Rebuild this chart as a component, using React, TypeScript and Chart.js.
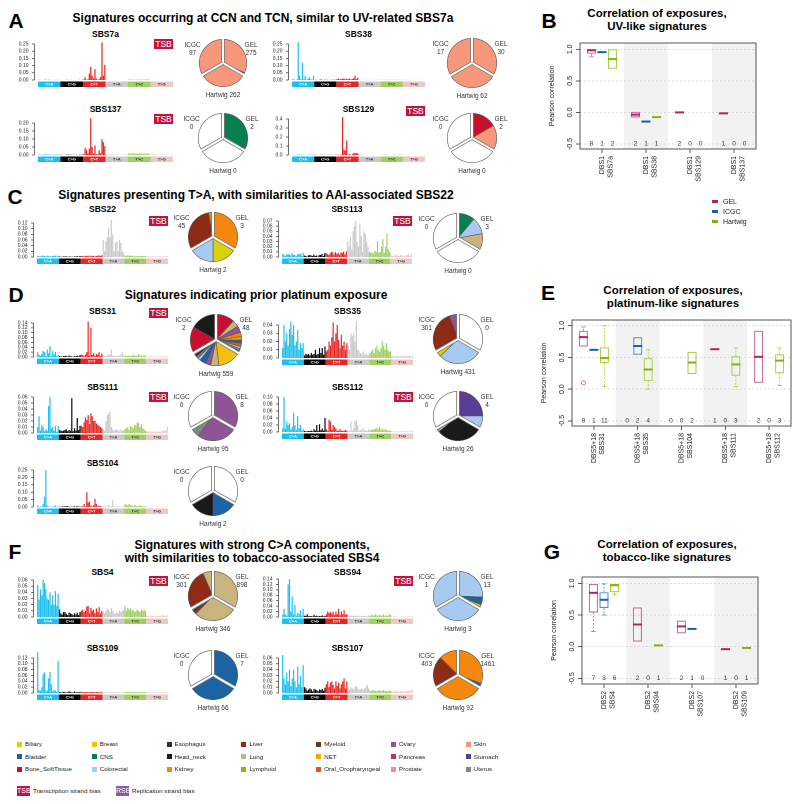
import React, { useEffect, useRef } from "react";
import { Chart, registerables } from "chart.js";

Chart.register(...registerables);

const FONT = "'Liberation Sans', Arial, Helvetica, sans-serif";

/* ---------------- categories ---------------- */
const SUBSTITUTIONS = ["C>A", "C>G", "C>T", "T>A", "T>C", "T>G"];
const BASES = ["A", "C", "G", "T"];
const CONTEXTS: string[] = [];
SUBSTITUTIONS.forEach((s) => BASES.forEach((a) => BASES.forEach((b) => CONTEXTS.push(a + "[" + s + "]" + b))));
const SUB_COLORS = ["#1EBFF0", "#050708", "#E62725", "#CBCACB", "#A1CF64", "#EDC8C5"];
const SUB_TEXT = ["#ffffff", "#ffffff", "#ffffff", "#333333", "#333333", "#333333"];

const TUMOR_TYPES = [
  "Biliary", "Bladder", "Bone_SoftTissue", "Breast", "CNS", "Colorectal", "Esophagus",
  "Head_neck", "Kidney", "Liver", "Lung", "Lymphoid", "Myeloid", "NET",
  "Oral_Oropharyngeal", "Ovary", "Pancreas", "Prostate", "Skin", "Stomach", "Uterus",
];
const TUMOR_COLORS: Record<string, string> = {
  Biliary: "#D8D20B", Bladder: "#1B63A5", Bone_SoftTissue: "#C8102E", Breast: "#F5C00B",
  CNS: "#087F4E", Colorectal: "#A7CAF0", Esophagus: "#1D3B1E", Head_neck: "#1A1A1A",
  Kidney: "#F4870F", Liver: "#8E2B16", Lung: "#C9B47D", Lymphoid: "#8DB600",
  Myeloid: "#5E3C1F", NET: "#F9A600", Oral_Oropharyngeal: "#E2541C", Ovary: "#8E5496",
  Pancreas: "#B23A67", Prostate: "#E98AB0", Skin: "#F7977A", Stomach: "#5A3D96", Uterus: "#858585",
};

/* ---------------- signature profiles (96 channels) ---------------- */
const SBS7a = [
  0.002,0.001,0.000,0.001,0.002,0.003,0.001,0.002,0.001,0.001,0.000,0.001,0.001,0.002,0.000,0.001,
  0.000,0.000,0.000,0.000,0.001,0.001,0.000,0.001,0.000,0.000,0.000,0.000,0.000,0.001,0.000,0.001,
  0.003,0.020,0.002,0.005,0.045,0.090,0.030,0.012,0.075,0.010,0.002,0.008,0.020,0.262,0.030,0.105,
  0.000,0.000,0.000,0.000,0.001,0.000,0.000,0.000,0.000,0.000,0.000,0.000,0.000,0.000,0.000,0.001,
  0.004,0.002,0.003,0.004,0.002,0.002,0.003,0.002,0.004,0.002,0.002,0.002,0.005,0.005,0.002,0.004,
  0.000,0.000,0.000,0.000,0.000,0.000,0.000,0.000,0.000,0.000,0.000,0.000,0.000,0.000,0.000,0.001,
];
const SBS38 = [
  0.006,0.004,0.001,0.003,0.262,0.030,0.005,0.120,0.006,0.030,0.002,0.010,0.020,0.006,0.002,0.030,
  0.001,0.001,0.000,0.001,0.002,0.003,0.000,0.002,0.001,0.001,0.000,0.001,0.001,0.002,0.000,0.002,
  0.006,0.010,0.004,0.008,0.008,0.012,0.005,0.010,0.006,0.010,0.004,0.008,0.012,0.030,0.008,0.015,
  0.001,0.001,0.001,0.001,0.002,0.001,0.001,0.001,0.001,0.001,0.001,0.001,0.001,0.001,0.001,0.002,
  0.002,0.001,0.002,0.001,0.002,0.002,0.001,0.002,0.002,0.001,0.002,0.001,0.002,0.002,0.001,0.003,
  0.001,0.001,0.001,0.001,0.001,0.001,0.001,0.001,0.001,0.001,0.001,0.001,0.001,0.001,0.001,0.001,
];
const SBS137 = [
  0.003,0.002,0.001,0.002,0.003,0.004,0.001,0.003,0.002,0.002,0.001,0.002,0.002,0.003,0.001,0.002,
  0.001,0.001,0.000,0.001,0.002,0.002,0.001,0.002,0.001,0.001,0.000,0.001,0.001,0.002,0.001,0.003,
  0.005,0.045,0.030,0.010,0.040,0.230,0.050,0.010,0.060,0.005,0.004,0.030,0.010,0.100,0.080,0.055,
  0.003,0.002,0.002,0.003,0.004,0.002,0.003,0.002,0.002,0.002,0.002,0.002,0.003,0.002,0.002,0.003,
  0.010,0.008,0.010,0.009,0.010,0.008,0.010,0.008,0.010,0.009,0.008,0.010,0.008,0.010,0.008,0.006,
  0.002,0.002,0.002,0.002,0.003,0.002,0.002,0.003,0.002,0.002,0.002,0.002,0.002,0.003,0.002,0.002,
];
const SBS129 = [
  0.003,0.002,0.002,0.003,0.003,0.004,0.002,0.003,0.002,0.002,0.002,0.002,0.003,0.003,0.002,0.003,
  0.001,0.001,0.001,0.001,0.001,0.002,0.001,0.001,0.001,0.001,0.001,0.001,0.001,0.001,0.001,0.002,
  0.003,0.003,0.002,0.005,0.420,0.060,0.050,0.160,0.005,0.010,0.002,0.010,0.020,0.025,0.020,0.020,
  0.001,0.001,0.001,0.001,0.002,0.001,0.001,0.001,0.001,0.001,0.001,0.001,0.001,0.001,0.001,0.001,
  0.002,0.003,0.002,0.002,0.003,0.002,0.002,0.003,0.002,0.002,0.003,0.002,0.002,0.003,0.002,0.004,
  0.001,0.001,0.001,0.001,0.001,0.001,0.001,0.001,0.001,0.001,0.001,0.001,0.001,0.001,0.001,0.002,
];
const SBS22 = [
  0.004,0.003,0.002,0.004,0.005,0.004,0.002,0.005,0.003,0.003,0.002,0.004,0.004,0.005,0.002,0.005,
  0.002,0.001,0.001,0.002,0.002,0.002,0.001,0.002,0.001,0.001,0.001,0.002,0.002,0.003,0.001,0.004,
  0.003,0.004,0.002,0.004,0.004,0.005,0.002,0.005,0.003,0.004,0.002,0.004,0.004,0.006,0.003,0.006,
  0.060,0.020,0.055,0.070,0.105,0.070,0.130,0.080,0.020,0.050,0.055,0.020,0.060,0.050,0.020,0.015,
  0.005,0.004,0.006,0.004,0.005,0.004,0.005,0.003,0.004,0.003,0.004,0.003,0.004,0.003,0.004,0.003,
  0.002,0.002,0.003,0.002,0.002,0.002,0.003,0.002,0.002,0.002,0.002,0.002,0.002,0.002,0.003,0.003,
];
const SBS113 = [
  0.006,0.004,0.002,0.005,0.006,0.005,0.003,0.007,0.004,0.004,0.002,0.005,0.006,0.007,0.002,0.008,
  0.003,0.002,0.001,0.003,0.004,0.003,0.002,0.005,0.002,0.003,0.001,0.004,0.004,0.006,0.002,0.007,
  0.008,0.006,0.004,0.007,0.010,0.009,0.005,0.010,0.006,0.008,0.004,0.009,0.008,0.010,0.005,0.011,
  0.030,0.020,0.040,0.015,0.050,0.060,0.070,0.030,0.020,0.065,0.040,0.010,0.050,0.045,0.030,0.020,
  0.010,0.008,0.010,0.006,0.012,0.010,0.030,0.008,0.010,0.020,0.035,0.008,0.020,0.045,0.015,0.010,
  0.004,0.002,0.002,0.003,0.005,0.003,0.002,0.004,0.003,0.002,0.002,0.003,0.004,0.005,0.002,0.006,
];
const SBS31 = [
  0.020,0.008,0.005,0.012,0.025,0.020,0.004,0.030,0.015,0.045,0.004,0.025,0.010,0.020,0.003,0.010,
  0.004,0.003,0.001,0.004,0.005,0.004,0.002,0.006,0.003,0.003,0.001,0.004,0.003,0.006,0.002,0.008,
  0.010,0.008,0.004,0.010,0.020,0.145,0.006,0.120,0.008,0.015,0.004,0.012,0.010,0.020,0.004,0.015,
  0.008,0.005,0.004,0.010,0.008,0.010,0.030,0.006,0.004,0.004,0.006,0.004,0.006,0.010,0.020,0.006,
  0.006,0.004,0.006,0.005,0.005,0.004,0.010,0.005,0.006,0.005,0.012,0.005,0.006,0.005,0.008,0.005,
  0.002,0.001,0.002,0.002,0.002,0.001,0.003,0.002,0.002,0.001,0.002,0.002,0.002,0.002,0.003,0.003,
];
const SBS35 = [
  0.012,0.040,0.020,0.030,0.015,0.035,0.044,0.028,0.040,0.015,0.020,0.034,0.010,0.018,0.012,0.018,
  0.003,0.005,0.004,0.005,0.003,0.006,0.004,0.005,0.010,0.004,0.005,0.012,0.006,0.012,0.004,0.014,
  0.008,0.010,0.020,0.015,0.025,0.043,0.020,0.030,0.040,0.022,0.012,0.028,0.015,0.020,0.010,0.018,
  0.015,0.010,0.030,0.027,0.030,0.020,0.045,0.010,0.008,0.006,0.005,0.008,0.004,0.006,0.004,0.004,
  0.006,0.008,0.010,0.006,0.012,0.015,0.010,0.008,0.012,0.020,0.015,0.010,0.018,0.010,0.008,0.008,
  0.002,0.003,0.002,0.002,0.003,0.002,0.002,0.003,0.002,0.003,0.002,0.003,0.002,0.003,0.002,0.003,
];
const SBS111 = [
  0.010,0.028,0.004,0.013,0.010,0.003,0.006,0.004,0.045,0.060,0.008,0.010,0.004,0.012,0.002,0.012,
  0.005,0.004,0.003,0.004,0.005,0.006,0.003,0.005,0.004,0.058,0.003,0.008,0.004,0.025,0.005,0.012,
  0.012,0.010,0.018,0.026,0.022,0.030,0.015,0.033,0.028,0.020,0.020,0.016,0.014,0.012,0.010,0.008,
  0.006,0.004,0.020,0.030,0.032,0.035,0.010,0.006,0.004,0.005,0.006,0.004,0.003,0.006,0.004,0.005,
  0.006,0.008,0.010,0.005,0.012,0.010,0.008,0.014,0.012,0.018,0.016,0.010,0.014,0.008,0.006,0.004,
  0.003,0.002,0.002,0.003,0.002,0.003,0.002,0.002,0.003,0.002,0.002,0.003,0.004,0.003,0.005,0.010,
];
const SBS112 = [
  0.010,0.100,0.010,0.030,0.020,0.025,0.008,0.015,0.055,0.020,0.006,0.045,0.010,0.020,0.004,0.008,
  0.003,0.002,0.002,0.003,0.003,0.004,0.002,0.008,0.004,0.020,0.003,0.022,0.005,0.010,0.004,0.040,
  0.008,0.004,0.035,0.030,0.006,0.020,0.015,0.010,0.004,0.004,0.008,0.004,0.003,0.004,0.006,0.004,
  0.004,0.002,0.030,0.004,0.010,0.030,0.035,0.020,0.004,0.006,0.004,0.010,0.004,0.006,0.003,0.008,
  0.004,0.006,0.008,0.006,0.010,0.012,0.008,0.014,0.006,0.010,0.005,0.008,0.006,0.004,0.004,0.005,
  0.002,0.001,0.002,0.001,0.002,0.002,0.001,0.002,0.002,0.001,0.002,0.002,0.002,0.001,0.002,0.004,
];
const SBS104 = [
  0.010,0.002,0.004,0.003,0.020,0.070,0.250,0.010,0.002,0.002,0.001,0.003,0.003,0.010,0.002,0.003,
  0.002,0.001,0.005,0.002,0.006,0.004,0.006,0.002,0.002,0.003,0.002,0.004,0.002,0.005,0.003,0.002,
  0.005,0.004,0.020,0.003,0.100,0.030,0.035,0.008,0.004,0.010,0.055,0.020,0.004,0.010,0.005,0.004,
  0.003,0.002,0.004,0.003,0.010,0.003,0.006,0.045,0.003,0.002,0.003,0.002,0.003,0.002,0.003,0.002,
  0.020,0.015,0.010,0.020,0.012,0.010,0.008,0.012,0.010,0.006,0.008,0.010,0.006,0.005,0.004,0.006,
  0.002,0.001,0.002,0.001,0.002,0.001,0.002,0.002,0.001,0.002,0.001,0.002,0.002,0.001,0.002,0.003,
];
const SBS4 = [
  0.052,0.028,0.045,0.035,0.060,0.055,0.045,0.030,0.028,0.040,0.020,0.035,0.020,0.042,0.018,0.038,
  0.012,0.006,0.004,0.008,0.008,0.005,0.003,0.007,0.006,0.005,0.003,0.006,0.004,0.007,0.003,0.008,
  0.010,0.012,0.008,0.010,0.017,0.018,0.006,0.015,0.010,0.012,0.006,0.014,0.008,0.016,0.006,0.010,
  0.008,0.006,0.010,0.014,0.012,0.008,0.015,0.010,0.006,0.005,0.008,0.006,0.010,0.008,0.010,0.012,
  0.018,0.010,0.015,0.012,0.014,0.010,0.012,0.008,0.010,0.012,0.010,0.008,0.012,0.010,0.012,0.010,
  0.002,0.001,0.002,0.002,0.002,0.002,0.001,0.002,0.002,0.001,0.002,0.002,0.003,0.002,0.002,0.003,
];
const SBS94 = [
  0.008,0.030,0.010,0.005,0.120,0.140,0.020,0.075,0.010,0.045,0.005,0.015,0.010,0.025,0.004,0.030,
  0.005,0.004,0.010,0.003,0.004,0.003,0.002,0.008,0.003,0.005,0.002,0.004,0.003,0.006,0.002,0.004,
  0.010,0.020,0.015,0.018,0.012,0.020,0.008,0.020,0.010,0.030,0.006,0.020,0.010,0.025,0.008,0.012,
  0.004,0.003,0.005,0.004,0.006,0.003,0.004,0.005,0.003,0.003,0.004,0.003,0.004,0.005,0.003,0.006,
  0.004,0.006,0.008,0.004,0.010,0.006,0.005,0.010,0.004,0.006,0.010,0.004,0.006,0.004,0.010,0.008,
  0.002,0.001,0.002,0.002,0.002,0.001,0.002,0.002,0.001,0.002,0.002,0.001,0.002,0.002,0.002,0.003,
];
const SBS109 = [
  0.140,0.010,0.008,0.020,0.065,0.070,0.006,0.010,0.050,0.072,0.030,0.006,0.010,0.008,0.004,0.110,
  0.003,0.002,0.002,0.004,0.003,0.002,0.002,0.006,0.003,0.002,0.002,0.005,0.002,0.003,0.002,0.004,
  0.003,0.004,0.002,0.003,0.004,0.003,0.002,0.004,0.003,0.003,0.002,0.003,0.004,0.003,0.002,0.004,
  0.002,0.002,0.003,0.002,0.002,0.002,0.003,0.002,0.002,0.002,0.002,0.002,0.002,0.002,0.002,0.002,
  0.003,0.004,0.003,0.003,0.004,0.003,0.003,0.004,0.003,0.003,0.004,0.003,0.003,0.003,0.003,0.003,
  0.002,0.002,0.002,0.002,0.002,0.002,0.002,0.002,0.002,0.002,0.002,0.002,0.002,0.002,0.002,0.003,
];
const SBS107 = [
  0.065,0.025,0.015,0.035,0.020,0.040,0.012,0.025,0.040,0.020,0.010,0.045,0.015,0.030,0.010,0.048,
  0.010,0.008,0.004,0.006,0.008,0.006,0.003,0.007,0.006,0.005,0.003,0.006,0.005,0.007,0.004,0.009,
  0.015,0.020,0.010,0.018,0.020,0.014,0.008,0.020,0.012,0.018,0.008,0.015,0.020,0.025,0.008,0.020,
  0.008,0.006,0.010,0.008,0.006,0.010,0.012,0.008,0.005,0.006,0.008,0.006,0.008,0.010,0.014,0.008,
  0.004,0.003,0.005,0.004,0.004,0.003,0.004,0.005,0.003,0.004,0.005,0.003,0.004,0.003,0.004,0.004,
  0.003,0.002,0.003,0.003,0.003,0.002,0.003,0.004,0.002,0.003,0.003,0.003,0.004,0.003,0.004,0.006,
];

/* ---------------- y tick labels ---------------- */
const TICKS_025 = [0, 0.05, 0.1, 0.15, 0.2, 0.25];
const TICKS_020 = [0, 0.05, 0.1, 0.15, 0.2];
const TICKS_04 = [0, 0.1, 0.2, 0.3, 0.4];
const TICKS_012 = [0, 0.02, 0.04, 0.06, 0.08, 0.1, 0.12];
const TICKS_007 = [0, 0.01, 0.02, 0.03, 0.04, 0.05, 0.06, 0.07];
const TICKS_014 = [0, 0.02, 0.04, 0.06, 0.08, 0.1, 0.12, 0.14];
const TICKS_004 = [0, 0.01, 0.02, 0.03, 0.04];
const TICKS_006 = [0, 0.01, 0.02, 0.03, 0.04, 0.05, 0.06];
const TICKS_010 = [0, 0.02, 0.04, 0.06, 0.08, 0.1];

/* ---------------- samples per tumour type (clockwise within each cohort) ---------------- */
const PIE_SBS7a = { GEL: [["Skin", 262], ["Bone_SoftTissue", 8], ["Biliary", 3], ["CNS", 2]], Hartwig: [["Skin", 262]], ICGC: [["Skin", 97]] };
const PIE_SBS38 = { GEL: [["Skin", 30]], Hartwig: [["Skin", 62]], ICGC: [["Skin", 17]] };
const PIE_SBS137 = { GEL: [["CNS", 2]], Hartwig: [], ICGC: [] };
const PIE_SBS129 = { GEL: [["Bone_SoftTissue", 1], ["Skin", 1]], Hartwig: [], ICGC: [] };
const PIE_SBS22 = { GEL: [["Kidney", 3]], Hartwig: [["Biliary", 1], ["Colorectal", 1]], ICGC: [["Liver", 41], ["Kidney", 4]] };
const PIE_SBS113 = { GEL: [["CNS", 1], ["Colorectal", 1], ["Lung", 1]], Hartwig: [], ICGC: [] };
const PIE_SBS31 = {
  GEL: [["Bone_SoftTissue", 17], ["Lung", 6], ["Ovary", 6], ["Kidney", 4], ["NET", 3], ["Bladder", 3], ["Oral_Oropharyngeal", 3], ["Colorectal", 2], ["Uterus", 2], ["Head_neck", 2]],
  Hartwig: [["Breast", 250], ["Lung", 85], ["Ovary", 56], ["Bladder", 67], ["Colorectal", 30], ["Uterus", 25], ["Head_neck", 20], ["Stomach", 15], ["Esophagus", 11]],
  ICGC: [["Bone_SoftTissue", 1], ["Head_neck", 1]],
};
const PIE_SBS35 = { GEL: [], Hartwig: [["Colorectal", 380], ["Biliary", 45], ["Lung", 6]], ICGC: [["Liver", 250], ["Ovary", 51]] };
const PIE_SBS111 = { GEL: [["Ovary", 8]], Hartwig: [["Ovary", 76], ["Uterus", 19]], ICGC: [] };
const PIE_SBS112 = { GEL: [["Stomach", 3], ["Colorectal", 1]], Hartwig: [["Head_neck", 24], ["Colorectal", 1], ["Oral_Oropharyngeal", 1]], ICGC: [] };
const PIE_SBS104 = { GEL: [], Hartwig: [["Bladder", 1], ["Head_neck", 1]], ICGC: [] };
const PIE_SBS4 = {
  GEL: [["Lung", 880], ["NET", 10], ["Breast", 8]],
  Hartwig: [["Lung", 300], ["Liver", 20], ["Head_neck", 10], ["Biliary", 8], ["Esophagus", 8]],
  ICGC: [["Head_neck", 5], ["Biliary", 6], ["Liver", 230], ["Lung", 60]],
};
const PIE_SBS94 = { GEL: [["Colorectal", 10], ["Bladder", 2], ["Breast", 1]], Hartwig: [["Colorectal", 3]], ICGC: [["Colorectal", 1]] };
const PIE_SBS109 = { GEL: [["Bladder", 7]], Hartwig: [["Bladder", 66]], ICGC: [] };
const PIE_SBS107 = { GEL: [["Kidney", 1340], ["Bladder", 121]], Hartwig: [["Kidney", 92]], ICGC: [["Liver", 250], ["Kidney", 153]] };

/* ---------------- correlation boxplots: [min, q1, median, q3, max] ---------------- */
const COHORTS = ["GEL", "ICGC", "Hartwig"];
const COHORT_LINE = ["#D2679A", "#4F92D2", "#A8CF48"];
const COHORT_MED = ["#B0245E", "#1560A8", "#84B010"];

const B_LABELS = [["DBS1", "SBS7a"], ["DBS1", "SBS38"], ["DBS1", "SBS129"], ["DBS1", "SBS137"]];
const B_GEL = [[0.88, 0.93, 0.985, 1.0, 1.0], [-0.08, -0.08, -0.035, 0.01, 0.01], [-0.006, -0.006, 0.0, 0.006, 0.006], [-0.015, -0.015, -0.015, -0.015, -0.015]];
const B_ICGC = [[0.955, 0.955, 0.955, 0.955, 0.955], [-0.145, -0.145, -0.145, -0.145, -0.145], null, null];
const B_HW = [[0.69, 0.69, 0.845, 1.0, 1.0], [-0.075, -0.075, -0.075, -0.075, -0.075], null, null];
const B_N_GEL = [8, 2, 2, 1];
const B_N_ICGC = [1, 1, 0, 0];
const B_N_HW = [2, 1, 0, 0];

const E_LABELS = [["DBS5+18", "SBS31"], ["DBS5+18", "SBS35"], ["DBS5+18", "SBS104"], ["DBS5+18", "SBS111"], ["DBS5+18", "SBS112"]];
const E_GEL = [[0.67, 0.67, 0.82, 0.92, 0.98], null, null, [0.63, 0.63, 0.63, 0.63, 0.63], [0.1, 0.1, 0.51, 0.92, 0.92]];
const E_GEL_OUT = [[0.1], [], [], [], []];
const E_ICGC = [[0.62, 0.62, 0.62, 0.62, 0.62], [0.54, 0.54, 0.68, 0.82, 0.82], null, null, null];
const E_HW = [[0.04, 0.41, 0.49, 0.66, 1.0], [0.0, 0.13, 0.31, 0.49, 0.62], [0.24, 0.24, 0.42, 0.59, 0.59], [0.04, 0.21, 0.39, 0.52, 0.65], [0.06, 0.25, 0.45, 0.55, 0.65]];
const E_N_GEL = [8, 0, 0, 1, 2];
const E_N_ICGC = [1, 2, 0, 0, 0];
const E_N_HW = [11, 4, 2, 3, 3];

const G_LABELS = [["DBS2", "SBS4"], ["DBS2", "SBS94"], ["DBS2", "SBS107"], ["DBS2", "SBS109"]];
const G_GEL = [[0.24, 0.54, 0.85, 0.99, 0.99], [0.08, 0.08, 0.35, 0.62, 0.62], [0.21, 0.21, 0.32, 0.41, 0.41], [-0.04, -0.04, -0.04, -0.04, -0.04]];
const G_ICGC = [[0.5, 0.61, 0.74, 0.86, 0.99], null, [0.28, 0.28, 0.28, 0.28, 0.28], null];
const G_HW = [[0.82, 0.86, 0.97, 0.99, 0.99], [0.02, 0.02, 0.02, 0.02, 0.02], null, [-0.02, -0.02, -0.02, -0.02, -0.02]];
const G_N_GEL = [7, 2, 2, 1];
const G_N_ICGC = [3, 0, 1, 0];
const G_N_HW = [6, 1, 0, 1];

const CORR_TICKS = [-0.5, 0, 0.5, 1];

/* ---------------- layout ---------------- */
const SIGS = [
  { name: "SBS7a", values: SBS7a, ticks: TICKS_025, dec: 2, tsb: true, left: 38, right: 173, top: 44, zero: 80, titleY: 35, tsbY: 39, pie: { cx: 223, cy: 63, r: 24, comp: PIE_SBS7a } },
  { name: "SBS38", values: SBS38, ticks: TICKS_025, dec: 2, tsb: false, left: 292, right: 425, top: 44, zero: 80, titleY: 35, tsbY: 39, pie: { cx: 472, cy: 63, r: 25, comp: PIE_SBS38 } },
  { name: "SBS137", values: SBS137, ticks: TICKS_020, dec: 2, tsb: true, left: 38, right: 173, top: 123, zero: 155, titleY: 110, tsbY: 114, pie: { cx: 223, cy: 138, r: 25, comp: PIE_SBS137 } },
  { name: "SBS129", values: SBS129, ticks: TICKS_04, dec: 1, tsb: true, left: 292, right: 425, top: 119, zero: 155, titleY: 110, tsbY: 106, pie: { cx: 472, cy: 138, r: 25, comp: PIE_SBS129 } },
  { name: "SBS22", values: SBS22, ticks: TICKS_012, dec: 2, tsb: true, left: 37, right: 168, top: 223, zero: 257, titleY: 210, tsbY: 216, pie: { cx: 213, cy: 237, r: 25, comp: PIE_SBS22 } },
  { name: "SBS113", values: SBS113, ticks: TICKS_007, dec: 2, tsb: true, left: 282, right: 412, top: 221, zero: 257, titleY: 210, tsbY: 216, pie: { cx: 458, cy: 238, r: 25, comp: PIE_SBS113 } },
  { name: "SBS31", values: SBS31, ticks: TICKS_014, dec: 2, tsb: true, left: 37, right: 168, top: 323, zero: 357, titleY: 312, tsbY: 308, pie: { cx: 216, cy: 340, r: 26, comp: PIE_SBS31 } },
  { name: "SBS35", values: SBS35, ticks: TICKS_004, dec: 2, tsb: false, left: 282, right: 413, top: 325, zero: 358, titleY: 312, tsbY: 308, pie: { cx: 458, cy: 339, r: 25, comp: PIE_SBS35 } },
  { name: "SBS111", values: SBS111, ticks: TICKS_006, dec: 2, tsb: true, left: 37, right: 168, top: 397, zero: 433, titleY: 388, tsbY: 392, pie: { cx: 213, cy: 416, r: 25, comp: PIE_SBS111 } },
  { name: "SBS112", values: SBS112, ticks: TICKS_010, dec: 2, tsb: true, left: 282, right: 413, top: 397, zero: 432, titleY: 388, tsbY: 392, pie: { cx: 458, cy: 416, r: 25, comp: PIE_SBS112 } },
  { name: "SBS104", values: SBS104, ticks: TICKS_025, dec: 2, tsb: false, left: 37, right: 168, top: 470, zero: 507, titleY: 464, tsbY: 468, pie: { cx: 213, cy: 491, r: 25, comp: PIE_SBS104 } },
  { name: "SBS4", values: SBS4, ticks: TICKS_006, dec: 2, tsb: true, left: 37, right: 168, top: 580, zero: 617, titleY: 573, tsbY: 576, pie: { cx: 213, cy: 596, r: 25, comp: PIE_SBS4 } },
  { name: "SBS94", values: SBS94, ticks: TICKS_014, dec: 2, tsb: true, left: 282, right: 413, top: 579, zero: 617, titleY: 573, tsbY: 576, pie: { cx: 458, cy: 596, r: 25, comp: PIE_SBS94 } },
  { name: "SBS109", values: SBS109, ticks: TICKS_012, dec: 2, tsb: false, left: 37, right: 168, top: 658, zero: 693, titleY: 649, tsbY: 652, pie: { cx: 213, cy: 675, r: 25, comp: PIE_SBS109 } },
  { name: "SBS107", values: SBS107, ticks: TICKS_006, dec: 2, tsb: false, left: 282, right: 413, top: 658, zero: 693, titleY: 649, tsbY: 652, pie: { cx: 458, cy: 675, r: 25, comp: PIE_SBS107 } },
];

const BOXES = [
  { id: "B", labels: B_LABELS, stats: [B_GEL, B_ICGC, B_HW], outliers: [null, null, null], counts: [B_N_GEL, B_N_ICGC, B_N_HW], left: 580, top: 43, right: 756, bottom: 149, ymin: -0.58, ymax: 1.1 },
  { id: "E", labels: E_LABELS, stats: [E_GEL, E_ICGC, E_HW], outliers: [E_GEL_OUT, null, null], counts: [E_N_GEL, E_N_ICGC, E_N_HW], left: 572, top: 320, right: 791, bottom: 426, ymin: -0.58, ymax: 1.09 },
  { id: "G", labels: G_LABELS, stats: [G_GEL, G_ICGC, G_HW], outliers: [null, null, null], counts: [G_N_GEL, G_N_ICGC, G_N_HW], left: 582, top: 577, right: 758, bottom: 684, ymin: -0.59, ymax: 1.1 },
];

/* ---------------- helpers ---------------- */
function Txt(props: any) {
  const { x, y, size = 7, bold = false, anchor = "center", color = "#222", children, lh } = props;
  const tx = anchor === "center" ? "-50%" : anchor === "right" ? "-100%" : "0";
  return (
    <div
      style={{
        position: "absolute", left: x, top: y, transform: `translate(${tx},-50%)`,
        fontSize: size, fontWeight: bold ? "bold" : "normal", color, whiteSpace: "nowrap",
        lineHeight: lh ? lh + "px" : "1.15", textAlign: "center", fontFamily: FONT,
      }}
    >
      {children}
    </div>
  );
}

function SigChart({ s }: any) {
  const ref = useRef<HTMLCanvasElement>(null);
  const padL = 32, padT = 10, padB = 10, padR = 1;
  const W = s.right - s.left + padL + padR;
  const H = s.zero - s.top + padT + padB;
  useEffect(() => {
    const ticks: number[] = s.ticks;
    const plugin = {
      id: "sigDecor",
      afterDraw(chart: any) {
        const { ctx, chartArea } = chart;
        const xs = chart.scales.x, ys = chart.scales.y;
        ctx.save();
        const ax = chartArea.left - 3.5;
        ctx.strokeStyle = "#333";
        ctx.lineWidth = 0.7;
        ctx.beginPath();
        ctx.moveTo(ax, ys.getPixelForValue(ticks[0]));
        ctx.lineTo(ax, ys.getPixelForValue(ticks[ticks.length - 1]));
        ctx.stroke();
        ctx.font = `5px ${FONT}`;
        ctx.fillStyle = "#222";
        ctx.textAlign = "right";
        ctx.textBaseline = "middle";
        ticks.forEach((t) => {
          const py = ys.getPixelForValue(t);
          ctx.beginPath();
          ctx.moveTo(ax - 2.5, py);
          ctx.lineTo(ax, py);
          ctx.stroke();
          ctx.fillText(t.toFixed(s.dec), ax - 6, py);
        });
        const step = xs.getPixelForValue(1) - xs.getPixelForValue(0);
        SUBSTITUTIONS.forEach((sub, g) => {
          const x0 = xs.getPixelForValue(g * 16) - step / 2;
          const x1 = xs.getPixelForValue(g * 16 + 15) + step / 2;
          ctx.fillStyle = SUB_COLORS[g];
          ctx.fillRect(x0, chartArea.bottom + 1.5, x1 - x0, 5.5);
          ctx.fillStyle = SUB_TEXT[g];
          ctx.font = `bold 4px ${FONT}`;
          ctx.textAlign = "center";
          ctx.fillText(sub, (x0 + x1) / 2, chartArea.bottom + 4.4);
        });
        ctx.restore();
      },
    };
    const chart = new Chart(ref.current as HTMLCanvasElement, {
      type: "bar",
      data: {
        labels: CONTEXTS,
        datasets: [{
          data: s.values,
          backgroundColor: s.values.map((_: number, i: number) => SUB_COLORS[Math.floor(i / 16)]),
          barPercentage: 0.88, categoryPercentage: 1, clip: false as any, borderWidth: 0,
        }],
      },
      options: {
        animation: false, responsive: false, devicePixelRatio: 2,
        layout: { padding: { left: padL, top: padT, bottom: padB, right: padR } },
        plugins: { legend: { display: false }, tooltip: { enabled: false } },
        scales: {
          x: { display: false, offset: true },
          y: { display: false, min: 0, max: ticks[ticks.length - 1] },
        },
      },
      plugins: [plugin],
    });
    return () => chart.destroy();
  }, []);
  return (
    <canvas ref={ref} width={W} height={H}
      style={{ position: "absolute", left: s.left - padL, top: s.top - padT, width: W, height: H }} />
  );
}

function cohortSlices(list: any[]) {
  const total = list.reduce((a: number, b: any) => a + b[1], 0);
  if (total === 0) return [{ v: 1, c: "#ffffff" }];
  return list.map((e: any) => ({ v: e[1] / total, c: TUMOR_COLORS[e[0]] }));
}
const total = (list: any[]) => list.reduce((a: number, b: any) => a + b[1], 0);

function PieChart({ p }: any) {
  const ref = useRef<HTMLCanvasElement>(null);
  const pad = 3;
  const size = 2 * p.r + 2 * pad;
  useEffect(() => {
    const slices = [...cohortSlices(p.comp.GEL), ...cohortSlices(p.comp.Hartwig), ...cohortSlices(p.comp.ICGC)];
    const gap = {
      id: "pieGap",
      afterDatasetsDraw(chart: any) {
        const el: any = chart.getDatasetMeta(0).data[0];
        if (!el) return;
        const { x, y, outerRadius } = el;
        const ctx = chart.ctx;
        ctx.save();
        ctx.lineCap = "butt";
        [-Math.PI / 2, Math.PI / 6, (5 * Math.PI) / 6].forEach((a) => {
          const c = Math.cos(a), sn = Math.sin(a);
          ctx.strokeStyle = "#777";
          ctx.lineWidth = 3.6;
          ctx.beginPath();
          ctx.moveTo(x, y);
          ctx.lineTo(x + c * (outerRadius + 0.2), y + sn * (outerRadius + 0.2));
          ctx.stroke();
          ctx.strokeStyle = "#fff";
          ctx.lineWidth = 2.0;
          ctx.beginPath();
          ctx.moveTo(x, y);
          ctx.lineTo(x + c * (outerRadius + 2), y + sn * (outerRadius + 2));
          ctx.stroke();
        });
        ctx.restore();
      },
    };
    const chart = new Chart(ref.current as HTMLCanvasElement, {
      type: "pie",
      data: {
        labels: slices.map((_, i) => String(i)),
        datasets: [{ data: slices.map((s) => s.v), backgroundColor: slices.map((s) => s.c), borderColor: "#555", borderWidth: 0.6 }],
      },
      options: {
        animation: false, responsive: false, devicePixelRatio: 2,
        layout: { padding: pad },
        plugins: { legend: { display: false }, tooltip: { enabled: false } },
      },
      plugins: [gap],
    });
    return () => chart.destroy();
  }, []);
  const { cx, cy, r } = p;
  return (
    <>
      <canvas ref={ref} width={size} height={size}
        style={{ position: "absolute", left: cx - size / 2, top: cy - size / 2, width: size, height: size }} />
      <Txt x={cx - r * 0.93} y={cy - r * 0.6} size={6.5} anchor="right" color="#333" lh={8}>ICGC<br />{total(p.comp.ICGC)}</Txt>
      <Txt x={cx + r * 0.9} y={cy - r * 0.6} size={6.5} anchor="left" color="#333" lh={8}>GEL<br />{total(p.comp.GEL)}</Txt>
      <Txt x={cx} y={cy + r + 8} size={6.5} color="#333">Hartwig {total(p.comp.Hartwig)}</Txt>
    </>
  );
}

function BoxChart({ b }: any) {
  const ref = useRef<HTMLCanvasElement>(null);
  const padL = 44, padT = 4, padR = 4, xh = 54;
  const W = b.right - b.left + padL + padR;
  const H = b.bottom - b.top + padT + xh;
  useEffect(() => {
    const G = b.labels.length;
    const CAT = 0.72, BAR = 0.86;
    const geom = (chart: any, d: number, i: number) => {
      const xs = chart.scales.x;
      const cw = chart.chartArea.width / G;
      const slot = (cw * CAT) / 3;
      return { x: xs.getPixelForValue(i) + (d - 1) * slot, w: slot * BAR, cw };
    };
    const plugin = {
      id: "boxDecor",
      beforeDraw(chart: any) {
        const { ctx, chartArea } = chart;
        ctx.save();
        ctx.fillStyle = "#f2f2f2";
        for (let i = 1; i < G; i += 2) {
          const { cw } = geom(chart, 1, i);
          const xc = chart.scales.x.getPixelForValue(i);
          ctx.fillRect(xc - cw / 2, chartArea.top, cw, chartArea.bottom - chartArea.top);
        }
        ctx.restore();
      },
      afterDatasetsDraw(chart: any) {
        const { ctx } = chart;
        const ys = chart.scales.y;
        ctx.save();
        b.stats.forEach((arr: any[], d: number) => {
          arr.forEach((st: any, i: number) => {
            if (!st) return;
            const { x, w } = geom(chart, d, i);
            const [mn, q1, md, q3, mx] = st.map((v: number) => ys.getPixelForValue(v));
            ctx.strokeStyle = COHORT_LINE[d];
            ctx.lineWidth = 0.9;
            ctx.setLineDash([2, 1.5]);
            ctx.beginPath();
            if (mx < q3 - 0.5) { ctx.moveTo(x, q3); ctx.lineTo(x, mx); }
            if (mn > q1 + 0.5) { ctx.moveTo(x, q1); ctx.lineTo(x, mn); }
            ctx.stroke();
            ctx.setLineDash([]);
            ctx.beginPath();
            if (mx < q3 - 0.5) { ctx.moveTo(x - w / 4, mx); ctx.lineTo(x + w / 4, mx); }
            if (mn > q1 + 0.5) { ctx.moveTo(x - w / 4, mn); ctx.lineTo(x + w / 4, mn); }
            ctx.stroke();
            ctx.strokeStyle = COHORT_MED[d];
            ctx.lineWidth = 2;
            ctx.beginPath();
            ctx.moveTo(x - w / 2, md);
            ctx.lineTo(x + w / 2, md);
            ctx.stroke();
            const outs = b.outliers[d] ? b.outliers[d][i] : [];
            (outs || []).forEach((o: number) => {
              ctx.strokeStyle = COHORT_LINE[d];
              ctx.lineWidth = 0.9;
              ctx.beginPath();
              ctx.arc(x, ys.getPixelForValue(o), 2, 0, Math.PI * 2);
              ctx.stroke();
            });
          });
        });
        ctx.restore();
      },
      afterDraw(chart: any) {
        const { ctx, chartArea } = chart;
        const ys = chart.scales.y;
        ctx.save();
        ctx.strokeStyle = "#555";
        ctx.lineWidth = 1;
        ctx.strokeRect(chartArea.left, chartArea.top, chartArea.right - chartArea.left, chartArea.bottom - chartArea.top);
        ctx.fillStyle = "#222";
        ctx.font = `7px ${FONT}`;
        ctx.textAlign = "center";
        ctx.textBaseline = "middle";
        CORR_TICKS.forEach((t) => {
          ctx.save();
          ctx.translate(chartArea.left - 10, ys.getPixelForValue(t));
          ctx.rotate(-Math.PI / 2);
          ctx.fillText(t.toFixed(1), 0, 0);
          ctx.restore();
        });
        ctx.save();
        ctx.translate(chartArea.left - 28, (chartArea.top + chartArea.bottom) / 2);
        ctx.rotate(-Math.PI / 2);
        ctx.font = `7px ${FONT}`;
        ctx.fillText("Pearson correlation", 0, 0);
        ctx.restore();
        ctx.font = `6.5px ${FONT}`;
        ctx.fillStyle = "#333";
        b.counts.forEach((arr: number[], d: number) => {
          arr.forEach((n: number, i: number) => {
            const { x } = geom(chart, d, i);
            ctx.fillText(String(n), x, ys.getPixelForValue(-0.5));
          });
        });
        ctx.restore();
      },
    };
    const chart = new Chart(ref.current as HTMLCanvasElement, {
      type: "bar",
      data: {
        labels: b.labels,
        datasets: b.stats.map((arr: any[], d: number) => ({
          label: COHORTS[d],
          data: arr.map((st: any) => (st ? [st[1], st[3]] : null)),
          backgroundColor: "rgba(255,255,255,0)",
          borderColor: COHORT_LINE[d],
          borderWidth: 1.1,
          borderSkipped: false,
          categoryPercentage: CAT,
          barPercentage: BAR,
        })),
      },
      options: {
        animation: false, responsive: false, devicePixelRatio: 2,
        layout: { padding: { left: padL, top: padT, right: padR, bottom: 0 } },
        plugins: { legend: { display: false }, tooltip: { enabled: false } },
        scales: {
          x: {
            afterFit: (sc: any) => { sc.height = xh; },
            grid: { display: true, drawOnChartArea: false, drawTicks: true, tickLength: 4, offset: false, color: "#333", tickColor: "#333", tickWidth: 0.8 },
            border: { display: false },
            ticks: { autoSkip: false, minRotation: 90, maxRotation: 90, padding: 3, color: "#222", font: { size: 7, family: FONT, lineHeight: 1.2 } },
          },
          y: {
            min: b.ymin, max: b.ymax,
            afterFit: (sc: any) => { sc.width = 0; },
            afterBuildTicks: (sc: any) => { sc.ticks = CORR_TICKS.map((v) => ({ value: v })); },
            ticks: { display: false },
            grid: { color: "#cfcfcf", lineWidth: 0.7, drawTicks: true, tickLength: 4, tickColor: "#333", tickWidth: 0.8 },
            border: { display: false, dash: [2, 2] },
          },
        },
      },
      plugins: [plugin],
    });
    return () => chart.destroy();
  }, []);
  return (
    <canvas ref={ref} width={W} height={H}
      style={{ position: "absolute", left: b.left - padL, top: b.top - padT, width: W, height: H }} />
  );
}

function Badge({ x, y, text, color, w = 19, size = 8.5 }: any) {
  return (
    <div style={{
      position: "absolute", left: x, top: y, width: w, height: 10, background: color, color: "#fff",
      fontSize: size, lineHeight: "10px", textAlign: "center", fontFamily: FONT, overflow: "hidden",
    }}>{text}</div>
  );
}

export default function App() {
  return (
    <div style={{ position: "absolute", left: 0, top: 0, width: 800, height: 804, background: "#fff", overflow: "hidden", fontFamily: FONT }}>
      {/* panel letters */}
      <Txt x={16} y={21} size={21} bold color="#000">A</Txt>
      <Txt x={549} y={21} size={21} bold color="#000">B</Txt>
      <Txt x={15} y={197} size={21} bold color="#000">C</Txt>
      <Txt x={16} y={295} size={21} bold color="#000">D</Txt>
      <Txt x={548} y={293} size={21} bold color="#000">E</Txt>
      <Txt x={15} y={552} size={21} bold color="#000">F</Txt>
      <Txt x={552} y={552} size={21} bold color="#000">G</Txt>

      {/* panel titles */}
      <Txt x={263} y={19} size={12} bold color="#000">Signatures occurring at CCN and TCN, similar to UV-related SBS7a</Txt>
      <Txt x={256} y={196} size={12} bold color="#000">Signatures presenting T&gt;A, with similarities to AAI-associated SBS22</Txt>
      <Txt x={256} y={296} size={12} bold color="#000">Signatures indicating prior platinum exposure</Txt>
      <Txt x={252} y={551} size={12} bold color="#000" lh={12.5}>Signatures with strong C&gt;A components,<br />with similarities to tobacco-associated SBS4</Txt>
      <Txt x={657} y={19} size={11.5} bold color="#000" lh={12.5}>Correlation of exposures,<br />UV-like signatures</Txt>
      <Txt x={673} y={296} size={11.5} bold color="#000" lh={12.5}>Correlation of exposures,<br />platinum-like signatures</Txt>
      <Txt x={667} y={550} size={11.5} bold color="#000" lh={12.5}>Correlation of exposures,<br />tobacco-like signatures</Txt>

      {SIGS.map((s) => (
        <React.Fragment key={s.name}>
          <Txt x={(s.left + s.right) / 2} y={s.titleY} size={8.5} bold color="#000">{s.name}</Txt>
          <SigChart s={s} />
          {s.tsb ? <Badge x={s.right - 19} y={s.tsbY} text="TSB" color="#C0143C" /> : null}
          <PieChart p={s.pie} />
        </React.Fragment>
      ))}

      {BOXES.map((b) => <BoxChart key={b.id} b={b} />)}

      {/* cohort legend of panel B */}
      {COHORTS.map((c, i) => (
        <React.Fragment key={c}>
          <div style={{ position: "absolute", left: 712, top: 200 + i * 10, width: 6, height: 3, background: COHORT_MED[i] }} />
          <Txt x={723} y={201.5 + i * 10} size={7} anchor="left" color="#222">{c}</Txt>
        </React.Fragment>
      ))}

      {/* tumour type legend */}
      {TUMOR_TYPES.map((t, i) => {
        const col = Math.floor(i / 3), row = i % 3;
        const x = 17 + col * 74.8, y = 744 + row * 12.5;
        return (
          <React.Fragment key={t}>
            <div style={{ position: "absolute", left: x, top: y - 2.5, width: 5, height: 5, background: TUMOR_COLORS[t] }} />
            <Txt x={x + 8} y={y} size={6.2} anchor="left" color="#222">{t}</Txt>
          </React.Fragment>
        );
      })}
      <Badge x={17} y={786} w={12.5} size={7} text="TSB" color="#C0143C" />
      <Txt x={33} y={791} size={6.2} anchor="left" color="#222">Transcription strand bias</Txt>
      <Badge x={116} y={786} w={12.5} size={7} text="RSB" color="#8C5AA0" />
      <Txt x={132} y={791} size={6.2} anchor="left" color="#222">Replication strand bias</Txt>
    </div>
  );
}
